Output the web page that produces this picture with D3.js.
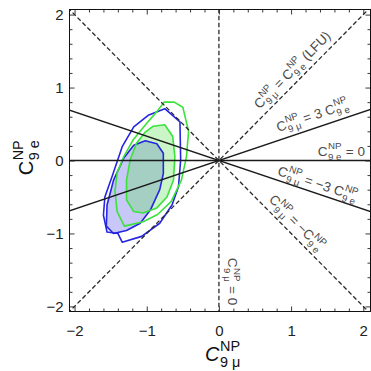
<!DOCTYPE html>
<html>
<head>
<meta charset="utf-8">
<script src="https://cdn.jsdelivr.net/npm/d3@7"></script>
<style>
  body { margin: 0; background: #fff; }
  svg { display: block; font-family: "Liberation Sans", Arial, sans-serif; }
  svg text { white-space: pre; }
</style>
</head>
<body>
<svg id="chart"></svg>
<script>
// contour polygons, [C9mu, C9e] in data units
const blueOuter = [[-0.75, 0.71], [-0.54, 0.53], [-0.53, 0.01], [-0.56, -0.36], [-0.65, -0.61],
  [-0.82, -0.86], [-1.07, -1.04], [-1.34, -1.12], [-1.40, -1.00], [-1.55, -0.98], [-1.60, -0.75],
  [-1.58, -0.50], [-1.48, -0.22], [-1.34, 0.19], [-1.18, 0.46], [-0.98, 0.62]];
const blueInner = [[-1.02, 0.27], [-0.86, 0.23], [-0.77, 0.10], [-0.77, -0.18], [-0.82, -0.40],
  [-0.95, -0.68], [-1.09, -0.86], [-1.28, -0.96], [-1.46, -1.00], [-1.56, -0.90], [-1.55, -0.61],
  [-1.46, -0.27], [-1.32, 0.03], [-1.18, 0.21]];
const greenOuter = [[-0.76, 0.80], [-0.62, 0.80], [-0.50, 0.73], [-0.42, 0.40], [-0.45, 0.05],
  [-0.52, -0.27], [-0.66, -0.56], [-0.85, -0.74], [-1.05, -0.84], [-1.31, -0.90], [-1.41, -0.70],
  [-1.44, -0.42], [-1.41, -0.17], [-1.32, 0.05], [-1.19, 0.28], [-1.00, 0.51], [-0.86, 0.67]];
const greenInner = [[-0.91, 0.47], [-0.75, 0.49], [-0.64, 0.33], [-0.61, 0.05], [-0.63, -0.27],
  [-0.72, -0.50], [-0.86, -0.65], [-1.05, -0.72], [-1.18, -0.70], [-1.28, -0.54], [-1.28, -0.27],
  [-1.23, 0.01], [-1.14, 0.24], [-1.02, 0.39]];

// reference lines C9e = k * C9mu
const solidSlopes = [0, 1 / 3, -1 / 3];
const dashedSlopes = [1, -1];

const majorTicks = [-2, -1, 0, 1, 2];
const minorTicks = d3.range(-2, 2.01, 0.2).map(d => +d.toFixed(1)).filter(d => !Number.isInteger(d));

const W = 371, H = 371;
const svg = d3.select('#chart').attr('width', W).attr('height', H);

const x = d3.scaleLinear().domain([-2.07, 2.1]).range([69.5, 370.5]);
const y = d3.scaleLinear().domain([-2.07, 2.07]).range([311.5, 9.5]);

svg.append('clipPath').attr('id', 'clip')
  .append('rect')
  .attr('x', x.range()[0]).attr('y', y.range()[1])
  .attr('width', x.range()[1] - x.range()[0])
  .attr('height', y.range()[0] - y.range()[1]);

const plot = svg.append('g').attr('clip-path', 'url(#clip)');

const area = d3.line().x(d => x(d[0])).y(d => y(d[1])).curve(d3.curveLinearClosed);

// filled 1 sigma regions
plot.append('path').attr('d', area(blueInner))
  .attr('fill', 'rgb(95,95,235)').attr('fill-opacity', 0.35);
plot.append('path').attr('d', area(greenInner))
  .attr('fill', 'rgb(90,225,80)').attr('fill-opacity', 0.32);

// contour lines
[[blueOuter, '#2626e0'], [blueInner, '#2626e0'], [greenOuter, '#3ae23a'], [greenInner, '#3ae23a']]
  .forEach(([pts, col]) => {
    plot.append('path').attr('d', area(pts))
      .attr('fill', 'none').attr('stroke', col).attr('stroke-width', 1.6)
      .attr('stroke-linejoin', 'round');
  });

const ends = [-2.3, 2.3];
solidSlopes.forEach(k => {
  plot.append('line')
    .attr('x1', x(ends[0])).attr('y1', y(k * ends[0]))
    .attr('x2', x(ends[1])).attr('y2', y(k * ends[1]))
    .attr('stroke', '#1a1a1a').attr('stroke-width', 1.5);
});
dashedSlopes.forEach(k => {
  plot.append('line')
    .attr('x1', x(ends[0])).attr('y1', y(k * ends[0]))
    .attr('x2', x(ends[1])).attr('y2', y(k * ends[1]))
    .attr('stroke', '#2a2a2a').attr('stroke-width', 1.3)
    .attr('stroke-dasharray', '4.5,2.5');
});
plot.append('line')
  .attr('x1', x(0)).attr('y1', y(-2.3))
  .attr('x2', x(0)).attr('y2', y(2.3))
  .attr('stroke', '#2a2a2a').attr('stroke-width', 1.3)
  .attr('stroke-dasharray', '4.5,2.5');

// frame ticks, pointing inward
function ticks(axis, vals, size, transform, labels) {
  const g = svg.append('g').attr('transform', transform)
    .call(axis.tickValues(vals).tickSize(size).tickSizeOuter(0).tickFormat(labels ? d3.format('d') : ''));
  g.select('.domain').remove();
  g.selectAll('line').attr('stroke', '#222').attr('stroke-width', 0.9);
  return g;
}
const x0 = x.range()[0], x1 = x.range()[1], y0 = y.range()[0], y1 = y.range()[1];
const bx = ticks(d3.axisBottom(x), majorTicks, -5, `translate(0,${y0})`, true);
ticks(d3.axisBottom(x), minorTicks, -3, `translate(0,${y0})`, false);
ticks(d3.axisTop(x), majorTicks, -5, `translate(0,${y1})`, false);
ticks(d3.axisTop(x), minorTicks, -3, `translate(0,${y1})`, false);
const ly = ticks(d3.axisLeft(y), majorTicks, -5, `translate(${x0},0)`, true);
ticks(d3.axisLeft(y), minorTicks, -3, `translate(${x0},0)`, false);
ticks(d3.axisRight(y), majorTicks, -5, `translate(${x1},0)`, false);
ticks(d3.axisRight(y), minorTicks, -3, `translate(${x1},0)`, false);

bx.selectAll('text').attr('y', 14).attr('font-size', 15).attr('fill', '#222')
  .attr('font-family', '"Liberation Sans", Arial, sans-serif')
  .text(d => d < 0 ? '\u2212' + Math.abs(d) : d);
ly.selectAll('text').attr('x', -6).attr('font-size', 15).attr('fill', '#222')
  .attr('font-family', '"Liberation Sans", Arial, sans-serif')
  .text(d => d < 0 ? '\u2212' + Math.abs(d) : d);

svg.append('rect')
  .attr('x', x0).attr('y', y1).attr('width', x1 - x0).attr('height', y0 - y1)
  .attr('fill', 'none').attr('stroke', '#111').attr('stroke-width', 1);

// text with stacked super/subscripts; parts are strings or {sup, sub}
function richLabel(parent, parts, fs, color, anchor, italicC) {
  const g = parent.append('g');
  let cx = 0;
  parts.forEach(p => {
    if (typeof p === 'string') {
      const t = g.append('text').attr('x', cx).attr('y', 0).attr('font-size', fs)
        .attr('fill', color).attr('xml:space', 'preserve').text(p);
      if (italicC && p === 'C') t.attr('font-style', 'italic');
      cx += t.node().getComputedTextLength();
    } else {
      const s = fs * 0.72;
      const a = g.append('text').attr('x', cx + 0.5).attr('y', -fs * 0.48).attr('font-size', s)
        .attr('fill', color).text(p.sup);
      const b = g.append('text').attr('x', cx + 0.5).attr('y', fs * 0.3).attr('font-size', s)
        .attr('fill', color).attr('xml:space', 'preserve').text(p.sub);
      cx += Math.max(a.node().getComputedTextLength(), b.node().getComputedTextLength()) + 1;
    }
  });
  const shift = anchor === 'middle' ? -cx / 2 : anchor === 'end' ? -cx : 0;
  g.selectAll('text').attr('x', function () { return +d3.select(this).attr('x') + shift; });
  return g;
}

const mu = { sup: 'NP', sub: '9 \u03bc' };
const el = { sup: 'NP', sub: '9 e' };

// line labels: direction (dx, dy), distance along the line from the origin (px), offset above it (px)
const lineLabels = [
  { parts: ['C', mu, ' = ', 'C', el, ' (LFU)'], dx: 1, dy: 1, along: 116, off: 7, anchor: 'middle' },
  { parts: ['C', mu, ' = 3 ', 'C', el], dx: 3, dy: 1, along: 103, off: 8, anchor: 'middle' },
  { parts: ['C', el, ' = 0'], dx: 1, dy: 0, along: 146, off: 5, anchor: 'end' },
  { parts: ['C', mu, ' = \u22123 ', 'C', el], dx: 3, dy: -1, along: 101, off: 5, anchor: 'middle' },
  { parts: ['C', mu, ' = \u2212', 'C', el], dx: 1, dy: -1, along: 99, off: 7, anchor: 'middle' },
  { parts: ['C', mu, ' = 0'], dx: 0, dy: -1, along: 121, off: 9, anchor: 'middle' }
];
lineLabels.forEach(l => {
  const px = x(l.dx) - x(0), py = y(l.dy) - y(0);
  const len = Math.hypot(px, py);
  const ux = px / len, uy = py / len;
  const ang = Math.atan2(uy, ux) * 180 / Math.PI;
  const nx = uy, ny = -ux;
  const cx = x(0) + ux * l.along + nx * l.off;
  const cy = y(0) + uy * l.along + ny * l.off;
  const g = svg.append('g').attr('transform', `translate(${cx},${cy}) rotate(${ang})`);
  richLabel(g, l.parts, 13.5, '#4a4a4a', l.anchor, false);
});

// axis titles
const xt = svg.append('g').attr('transform', `translate(${x(0) + 4},${361})`);
richLabel(xt, ['C', { sup: 'NP', sub: '9 \u03bc' }], 20, '#111', 'middle', true);
const yt = svg.append('g').attr('transform', `translate(${33},${y(0) - 3}) rotate(-90)`);
richLabel(yt, ['C', { sup: 'NP', sub: '9 e' }], 20, '#111', 'middle', false);
</script>
</body>
</html>
